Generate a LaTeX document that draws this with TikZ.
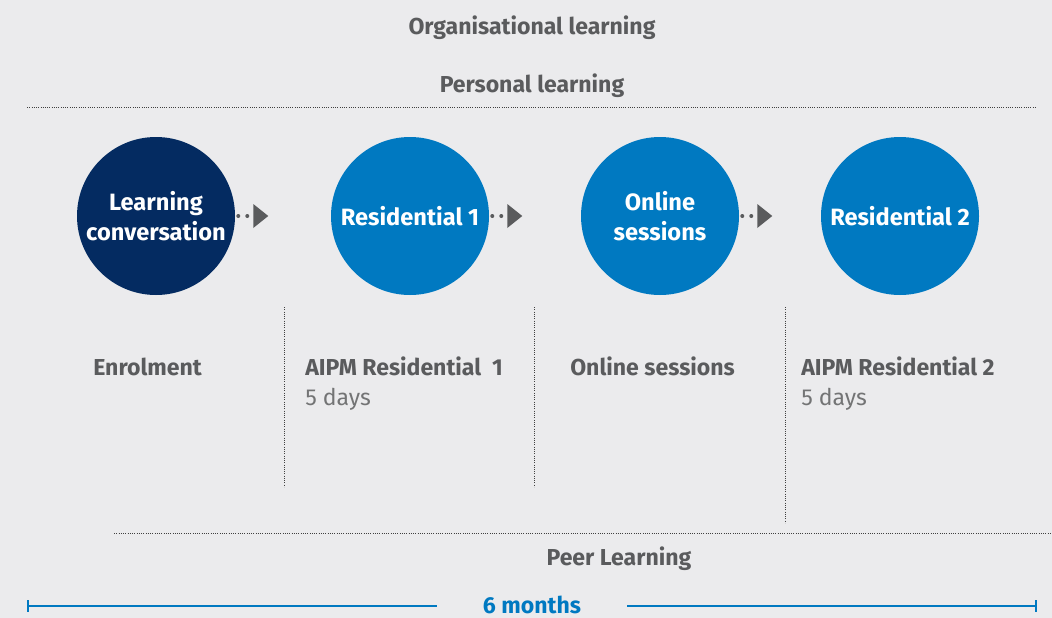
\documentclass[tikz,border=0pt]{standalone}
\usepackage{fontspec}
\setmainfont{Fira Sans}
\usetikzlibrary{positioning,calc}
\definecolor{bggray}{HTML}{EBEBED}
\definecolor{txtgray}{HTML}{5A5B5D}
\definecolor{navy}{HTML}{042B61}
\definecolor{aipmblue}{HTML}{0079C1}
\tikzset{
  stage/.style={circle,minimum size=158*0.025cm,inner sep=0pt,align=center,text=white,
    font=\fontsize{16.8}{21}\selectfont\bfseries},
  heading/.style={text=txtgray,inner sep=0pt,font=\fontsize{16.4}{19}\selectfont\bfseries},
  subnote/.style={text=txtgray!85,inner sep=0pt,font=\fontsize{16.4}{19}\selectfont},
  sepline/.style={black!75,line width=0.7pt,dash pattern=on 0.6pt off 1pt},
}
\begin{document}
\begin{tikzpicture}[x=0.025cm,y=-0.025cm]
  \fill[bggray] (0,0) rectangle (1052,618);
  \useasboundingbox (0,0) rectangle (1052,618);

  % headings
  \node[heading,anchor=base] (org) at (532,34) {Organisational learning};
  \node[heading,anchor=base] (pers) at (532,92) {Personal learning};
  \coordinate (topl) at (27,107);
  \coordinate (topr) at (1037,107);
  \draw[sepline] (topl) -- (topr);

  % stages
  \node[stage,fill=navy] (conv) at (156,216) {Learning\\conversation};
  \node[stage,fill=aipmblue] (res1) at (410,216) {Residential 1};
  \node[stage,fill=aipmblue] (online) at (660,216) {Online\\sessions};
  \node[stage,fill=aipmblue] (res2) at (900,216) {Residential 2};

  \foreach \a in {conv,res1,online} {
    \fill[txtgray] ($(\a.east)+(3,0)$) circle (2);
    \fill[txtgray] ($(\a.east)+(12,0)$) circle (2);
    \fill[txtgray] ($(\a.east)+(18,-12)$) -- ($(\a.east)+(33,0)$) -- ($(\a.east)+(18,12)$) -- cycle;
  }

  % phases
  \node[heading,anchor=base west] (enrol) at (93,375) {Enrolment};
  \node[heading,anchor=base west] (aipm1) at (305,375) {AIPM Residential\ \ 1};
  \node[subnote,anchor=base west] (days1) at (305,405) {5 days};
  \node[heading,anchor=base west] (onl) at (570,375) {Online sessions};
  \node[heading,anchor=base west] (aipm2) at (801,375) {AIPM Residential 2};
  \node[subnote,anchor=base west] (days2) at (801,405) {5 days};

  \draw[sepline] (284,307) -- (284,487);
  \draw[sepline] (534,307) -- (534,487);
  \draw[sepline] (785,307) -- (785,523);

  \coordinate (peerl) at (114,533);
  \coordinate (peerr) at (1052,533);
  \draw[sepline] (peerl) -- (peerr);
  \node[heading,anchor=base] (peer) at (619,565) {Peer Learning};

  % duration
  \node[heading,text=aipmblue,anchor=base] (months) at (532,613) {6 months};
  \draw[aipmblue,line width=1.6pt] (28,606) -- (437,606);
  \draw[aipmblue,line width=1.6pt] (627,606) -- (1036,606);
  \draw[aipmblue,line width=1.2pt] (28,600) -- (28,612);
  \draw[aipmblue,line width=1.2pt] (1036,600) -- (1036,612);
\end{tikzpicture}
\end{document}
